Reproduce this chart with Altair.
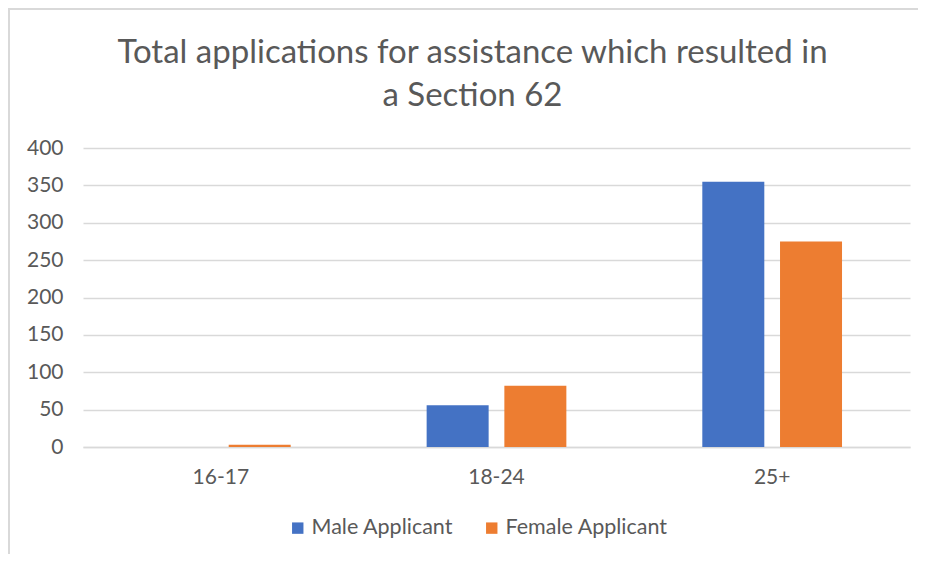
import altair as alt
import pandas as pd

categories = ["16-17", "18-24", "25+"]
series = ["Male Applicant", "Female Applicant"]
male_values = [0, 56, 355]
female_values = [3, 82, 275]
colors = ["#4472C4", "#ED7D31"]

rows = []
for i, c in enumerate(categories):
    rows.append({"age": c, "series": series[0], "value": male_values[i]})
    rows.append({"age": c, "series": series[1], "value": female_values[i]})
df = pd.DataFrame(rows)

FONT = "Lato"
GREY = "#595959"

bars = alt.Chart(df).mark_bar(size=62).encode(
    x=alt.X("age:N", sort=categories, title=None,
            scale=alt.Scale(paddingInner=0, paddingOuter=0),
            axis=alt.Axis(labelAngle=0, labelPadding=19, ticks=False,
                          domain=True, domainColor="#d9d9d9", domainWidth=1.5,
                          labelFontSize=21, labelColor=GREY, labelFont=FONT)),
    xOffset=alt.XOffset("series:N", sort=series,
                        scale=alt.Scale(paddingInner=0.205, paddingOuter=0.876)),
    y=alt.Y("value:Q", title=None,
            scale=alt.Scale(domain=[0, 400]),
            axis=alt.Axis(values=list(range(0, 401, 50)), ticks=False, domain=False,
                          gridColor="#d9d9d9", gridWidth=1.5, labelPadding=20,
                          labelFontSize=21, labelColor=GREY, labelFont=FONT)),
    color=alt.Color("series:N", sort=series,
                    scale=alt.Scale(domain=series, range=colors),
                    legend=alt.Legend(title=None, orient="none", direction="horizontal",
                                      legendX=204, legendY=369,
                                      symbolType="square", symbolSize=130,
                                      symbolStrokeWidth=0, labelLimit=400,
                                      labelFontSize=21.5, labelColor=GREY, labelFont=FONT,
                                      labelOffset=3, columnPadding=27)),
)

frame_left = alt.Chart(df).mark_rule(color="#d9d9d9", strokeWidth=2).encode(
    x=alt.value(-74), y=alt.value(-140), y2=alt.value(410)
)
frame_top = alt.Chart(df).mark_rule(color="#d9d9d9", strokeWidth=2).encode(
    x=alt.value(-75), x2=alt.value(835), y=alt.value(-139)
)

chart = alt.layer(bars, frame_left, frame_top).properties(
    width=827,
    height=299,
    autosize=alt.AutoSizeParams(type="none"),
    padding={"left": 75, "top": 140, "right": 8, "bottom": 107},
    title=alt.Title(["Total applications for assistance which resulted in", "a Section 62"],
                    font=FONT, fontSize=33, fontWeight="normal", color=GREY,
                    anchor="middle", frame="group", dx=-24, dy=134, offset=28, lineHeight=43),
).configure_view(stroke=None)

chart.save("out.html", embed_options={"renderer": "svg", "actions": False})
